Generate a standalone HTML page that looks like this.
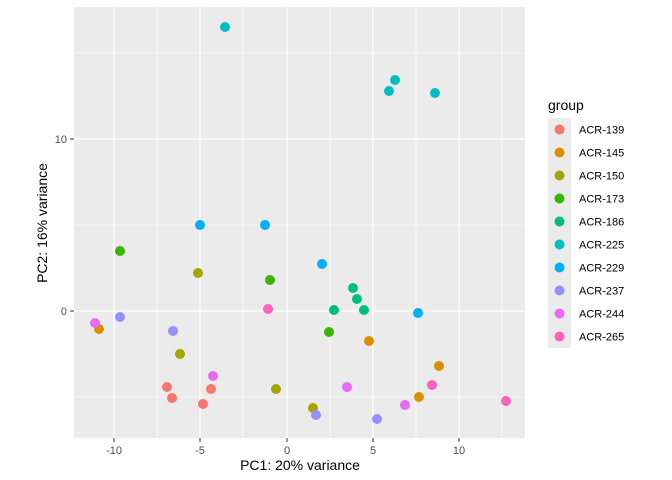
<!DOCTYPE html>
<html><head><style>body{margin:0;background:#fff}svg{display:block;font-family:"Liberation Sans",sans-serif}</style></head>
<body>
<svg width="672" height="480" xmlns="http://www.w3.org/2000/svg">
<rect x="74" y="7" width="451" height="431" fill="#ebebeb"/>
<g stroke="#fff" stroke-width="0.6">
<line x1="74" x2="525" y1="53" y2="53"/><line x1="74" x2="525" y1="225" y2="225"/><line x1="74" x2="525" y1="397" y2="397"/>
<line x1="157" x2="157" y1="7" y2="438"/><line x1="243" x2="243" y1="7" y2="438"/><line x1="330" x2="330" y1="7" y2="438"/><line x1="416" x2="416" y1="7" y2="438"/><line x1="502" x2="502" y1="7" y2="438"/>
</g>
<g stroke="#fff" stroke-width="1.2">
<line x1="74" x2="525" y1="139" y2="139"/><line x1="74" x2="525" y1="311" y2="311"/>
<line x1="114" x2="114" y1="7" y2="438"/><line x1="200" x2="200" y1="7" y2="438"/><line x1="287" x2="287" y1="7" y2="438"/><line x1="373" x2="373" y1="7" y2="438"/><line x1="459" x2="459" y1="7" y2="438"/>
</g>
<g stroke="#333" stroke-width="1">
<line x1="70" x2="74" y1="139" y2="139"/><line x1="70" x2="74" y1="311" y2="311"/>
<line x1="114" x2="114" y1="438" y2="442"/><line x1="200" x2="200" y1="438" y2="442"/><line x1="287" x2="287" y1="438" y2="442"/><line x1="373" x2="373" y1="438" y2="442"/><line x1="459" x2="459" y1="438" y2="442"/>
</g>
<g font-size="11" fill="#4d4d4d">
<text x="67" y="143" text-anchor="end">10</text><text x="67" y="315" text-anchor="end">0</text>
<g text-anchor="middle"><text x="114" y="454">-10</text><text x="200" y="454">-5</text><text x="287" y="454">0</text><text x="373" y="454">5</text><text x="459" y="454">10</text></g>
</g>
<text x="300" y="470" font-size="14" text-anchor="middle">PC1: 20% variance</text>
<text transform="translate(47,223) rotate(-90)" font-size="14" text-anchor="middle">PC2: 16% variance</text>
<g r="5">
<g fill="#00BFC4"><circle cx="225" cy="27" r="5"/><circle cx="395" cy="80" r="5"/><circle cx="389" cy="91" r="5"/><circle cx="435" cy="93" r="5"/></g>
<g fill="#00B0F6"><circle cx="200" cy="225" r="5"/><circle cx="265" cy="225" r="5"/><circle cx="322" cy="264" r="5"/><circle cx="418" cy="313" r="5"/></g>
<g fill="#39B600"><circle cx="120" cy="251" r="5"/><circle cx="270" cy="280" r="5"/><circle cx="329" cy="332" r="5"/></g>
<g fill="#00BF7D"><circle cx="353" cy="288" r="5"/><circle cx="357" cy="299" r="5"/><circle cx="334" cy="310" r="5"/><circle cx="364" cy="310" r="5"/></g>
<g fill="#A3A500"><circle cx="198" cy="273" r="5"/><circle cx="180" cy="354" r="5"/><circle cx="276" cy="389" r="5"/><circle cx="313" cy="408" r="5"/></g>
<g fill="#F8766D"><circle cx="167" cy="387" r="5"/><circle cx="172" cy="398" r="5"/><circle cx="211" cy="389" r="5"/><circle cx="203" cy="404" r="5"/></g>
<g fill="#D89000"><circle cx="99" cy="329" r="5"/><circle cx="369" cy="341" r="5"/><circle cx="439" cy="366" r="5"/><circle cx="419" cy="397" r="5"/></g>
<g fill="#9590FF"><circle cx="120" cy="317" r="5"/><circle cx="173" cy="331" r="5"/><circle cx="316" cy="415" r="5"/><circle cx="377" cy="419" r="5"/></g>
<g fill="#E76BF3"><circle cx="95" cy="323" r="5"/><circle cx="213" cy="376" r="5"/><circle cx="347" cy="387" r="5"/><circle cx="405" cy="405" r="5"/></g>
<g fill="#FF62BC"><circle cx="268" cy="309" r="5"/><circle cx="432" cy="385" r="5"/><circle cx="506" cy="401" r="5"/></g>
</g>
<text x="548" y="110" font-size="14">group</text>
<rect x="548" y="118" width="23" height="230" fill="#ebebeb"/>
<g font-size="11" fill="#000">
<circle cx="559.5" cy="129.5" r="5" fill="#F8766D"/><text x="579" y="133.5">ACR-139</text>
<circle cx="559.5" cy="152.5" r="5" fill="#D89000"/><text x="579" y="156.5">ACR-145</text>
<circle cx="559.5" cy="175.5" r="5" fill="#A3A500"/><text x="579" y="179.5">ACR-150</text>
<circle cx="559.5" cy="198.5" r="5" fill="#39B600"/><text x="579" y="202.5">ACR-173</text>
<circle cx="559.5" cy="221.5" r="5" fill="#00BF7D"/><text x="579" y="225.5">ACR-186</text>
<circle cx="559.5" cy="244.5" r="5" fill="#00BFC4"/><text x="579" y="248.5">ACR-225</text>
<circle cx="559.5" cy="267.5" r="5" fill="#00B0F6"/><text x="579" y="271.5">ACR-229</text>
<circle cx="559.5" cy="290.5" r="5" fill="#9590FF"/><text x="579" y="294.5">ACR-237</text>
<circle cx="559.5" cy="313.5" r="5" fill="#E76BF3"/><text x="579" y="317.5">ACR-244</text>
<circle cx="559.5" cy="336.5" r="5" fill="#FF62BC"/><text x="579" y="340.5">ACR-265</text>
</g>
</svg>
</body></html>
